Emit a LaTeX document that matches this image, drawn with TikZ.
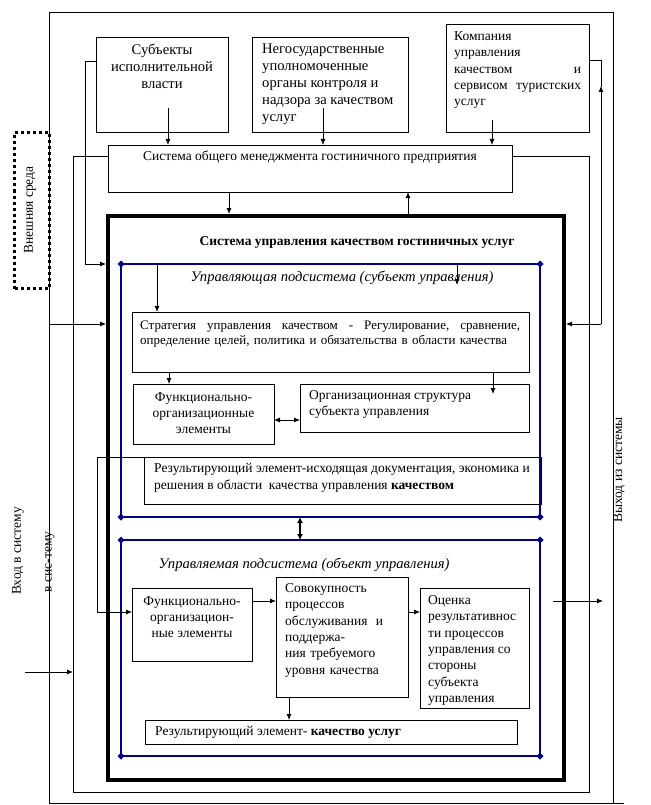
\documentclass[tikz,border=0pt]{standalone}
\usepackage{fontspec}
\setmainfont{Liberation Serif}
\usetikzlibrary{arrows.meta}
\definecolor{subblue}{RGB}{0,0,128}
\newcommand{\fs}{\fontsize{13.5}{16.3}\selectfont}
\newcommand{\fsb}{\fontsize{14.6}{17}\selectfont}
\newcommand{\fss}{\fontsize{13}{15.5}\selectfont}
\tikzset{
  box/.style={draw,line width=.8pt,anchor=north west,inner sep=0pt,outer sep=0pt},
  subbox/.style={box,draw=subblue,line width=2.2pt},
  qmsbox/.style={box,line width=4pt,outer sep=2pt},
  txt/.style={inner sep=0pt,anchor=north west,align=left,font=\fs},
  ctxt/.style={inner sep=0pt,align=center,font=\fs},
  conn/.style={line width=.8pt},
  >={Latex[length=6pt,width=5pt]}
}
\begin{document}
\begin{tikzpicture}[x=1pt,y=-1pt]
\useasboundingbox (0,0) rectangle (650,805);
% frames
\node[box,minimum width=564,minimum height=791] (outer) at (49,12) {};
\draw[conn] (outer.south east) -- ++(11,0);
\node[box,line width=3pt,dash pattern=on 3pt off 3pt,minimum width=34.5,minimum height=156] (env) at (14.5,132.5) {};
\node[ctxt,rotate=90] (env-t) at (30,210) {Внешняя среда};
\node[ctxt,rotate=90] (in-t) at (18,551) {Вход в систему};
\node[ctxt,rotate=90] (in2-t) at (50,562) {в сис-тему};
\node[ctxt,rotate=90] (out-t) at (619,470) {Выход из системы};
% top boxes
\node[box,minimum width=132,minimum height=95] (subj) at (96,37) {};
\node[ctxt,anchor=north,font=\fsb] (subj-t) at (162,44) {Субъекты\\исполнительной\\власти};
\node[box,minimum width=156,minimum height=95] (neg) at (252,37) {};
\node[txt,font=\fsb] (neg-t) at (262,44) {Негосударственные\\уполномоченные\\органы контроля и\\надзора за качеством\\услуг};
\node[box,minimum width=143,minimum height=108] (comp) at (446,24) {};
\node[txt,text width=127] (comp-t) at (454,31.5) {Компания\\управления\\качеством\hfill и\\сервисом\hfill туристских\\услуг};
\node[box,minimum width=404,minimum height=47] (sys) at (108,145) {};
\node[ctxt] (sys-t) at (310,157) {Система общего менеджмента гостиничного предприятия};
% quality system
\node[qmsbox,minimum width=456,minimum height=564] (qms) at (106,214) {};
\node[ctxt,font=\fs\bfseries] (qms-t) at (357,242) {Система управления качеством гостиничных услуг};
\node[subbox,minimum width=419,minimum height=253] (ctrl) at (121,264) {};
\node[subbox,minimum width=419,minimum height=216] (objc) at (121,540) {};
\foreach \n in {ctrl,objc}
  \foreach \c in {north west,north east,south west,south east}
    \fill[subblue] (\n.\c) +(-3.5,0) -- +(0,3.5) -- +(3.5,0) -- +(0,-3.5) -- cycle;
\node[ctxt,font=\fsb\itshape] (ctrl-t) at (342,278) {Управляющая подсистема (субъект управления)};
\node[box,minimum width=397,minimum height=60] (strat) at (132,312) {};
\node[txt,font=\fss,text width=380] (strat-t) at (140,320.5) {Стратегия\hfill управления\hfill качеством\hfill -\hfill Регулирование,\hfill сравнение,\\определение целей, политика и обязательства в области качества};
\node[box,minimum width=141,minimum height=60] (func1) at (133,384) {};
\node[ctxt] (func1-t) at (203.5,413) {Функционально-\\организационные\\элементы};
\node[box,minimum width=229,minimum height=48] (org1) at (300,384) {};
\node[txt] (org1-t) at (309,390.5) {Организационная структура\\субъекта управления};
\node[box,minimum width=397,minimum height=47] (res1) at (144,457) {};
\node[txt] (res1-t) at (154,463.5) {Результирующий элемент-исходящая документация, экономика и\\решения в области \ качества управления \textbf{качеством}};
\node[ctxt,font=\fsb\itshape] (objc-t) at (304,565) {Управляемая подсистема (объект управления)};
\node[box,minimum width=120,minimum height=73] (func2) at (132,588) {};
\node[ctxt] (func2-t) at (192,617) {Функционально-\\организацион-\\ные элементы};
\node[box,minimum width=132,minimum height=120] (proc) at (276,577) {};
\node[txt,text width=98] (proc-t) at (285,583.5) {Совокупность\\процессов\\обслуживания\hfill и\\поддержа-\\ния требуемого\\уровня качества};
\node[box,minimum width=109,minimum height=120] (eval) at (420,588) {};
\node[txt] (eval-t) at (428,595.5) {Оценка\\результативнос\\ти процессов\\управления со\\стороны\\субъекта\\управления};
\node[box,minimum width=372,minimum height=24] (res2) at (145,720) {};
\node[txt,anchor=west] (res2-t) at (155,732) {Результирующий элемент- \textbf{качество услуг}};
% connectors
\draw[conn,->] ([xshift=6,yshift=24]subj.south) -- ([xshift=6]subj.south |- sys.north);
\draw[conn,->] ([xshift=-7,yshift=24]neg.south) -- ([xshift=-7]neg.south |- sys.north);
\draw[conn,->] ([xshift=-25.5,yshift=12]comp.south) -- ([xshift=-25.5]comp.south |- sys.north);
\draw[conn,->] ([xshift=-81]sys.south) -- ([xshift=-81]sys.south |- qms.north);
\draw[conn,->] ([xshift=98]sys.south |- qms.north) -- ([xshift=98]sys.south);
\draw[conn,->] ([yshift=23.5]subj.west) -- (85,61) -- (85,264) -- (qms.west |- ctrl.north);
\draw[conn] ([yshift=12.5]sys.west) -- (73,156) -- (73,792) -- (589,792) -- (589,156) -- ([yshift=12.5]sys.east);
\draw[conn,->] (outer.west |- 0,324) -- (qms.west |- 0,324);
\draw[conn,->] (601,324) -- (601,86);
\draw[conn] (601,87) |- ([yshift=18]comp.east);
\draw[conn,->] (601,324) -- (qms.east |- 0,324);
\coordinate (in-a) at (25,672);
\coordinate (in-b) at (73,672);
\draw[conn,->] (in-a) -- (in-b);
\coordinate (out-a) at (553,601);
\coordinate (out-b) at (603,601);
\draw[conn,->] (out-a) -- (out-b);
\draw[conn,->] (ctrl.north -| 157,0) -- (strat.north -| 157,0);
\draw[conn,->] (ctrl.north -| 457,0) -- ([yshift=-21]ctrl.north -| 457,0);
\draw[conn,->] (strat.south -| 169,0) -- (func1.north -| 169,0);
\draw[conn,->] (strat.south -| 493,0) -- ([yshift=-10]org1.north -| 493,0);
\draw[conn,<->] (func1.east |- 0,420) -- (org1.west |- 0,420);
\draw[line width=2.5pt,{Latex[length=6pt,width=6pt]}-{Latex[length=6pt,width=6pt]}] (ctrl.south -| 300,0) -- (objc.north -| 300,0);
\draw[conn,->] (res1.north west) -- (97,457) -- (97,612) -- ([yshift=12.5]func2.west);
\draw[conn,->] (func2.east |- 0,601) -- (proc.west |- 0,601);
\draw[conn,->] (proc.east |- 0,612) -- (eval.west |- 0,612);
\draw[conn,->] (proc.south -| 289,0) -- (res2.north -| 289,0);
\end{tikzpicture}
\end{document}
